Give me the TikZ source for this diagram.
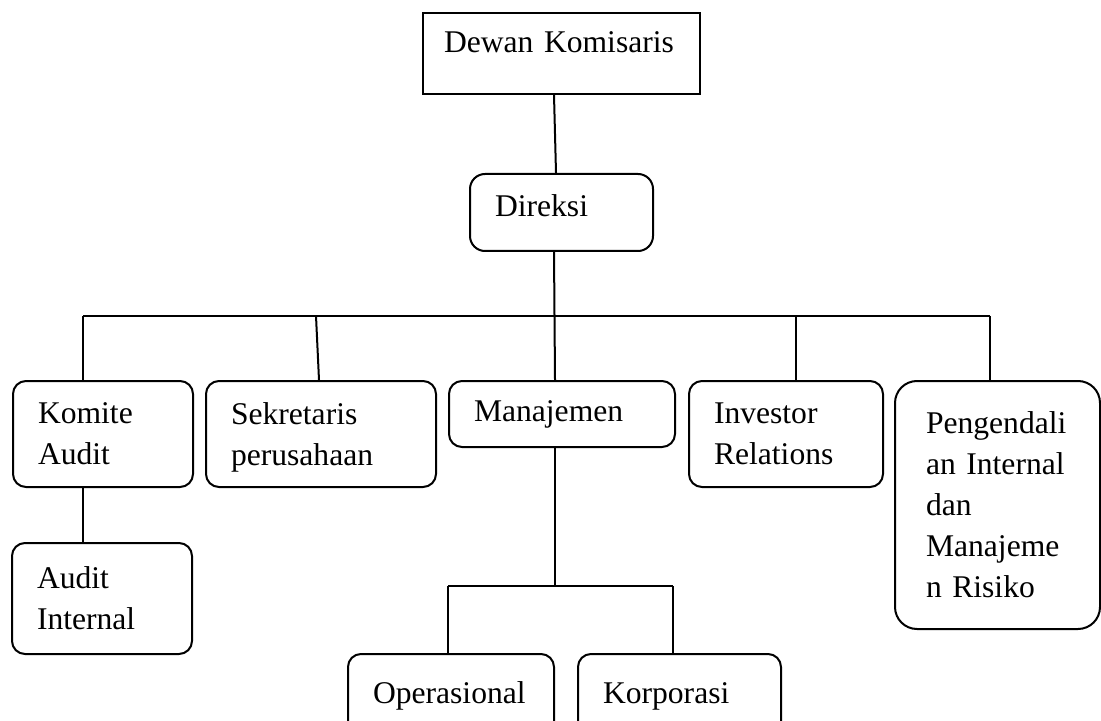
\documentclass[tikz,border=0pt]{standalone}
\usepackage{fontspec}
\setmainfont{Liberation Serif}
\begin{document}
\begin{tikzpicture}[x=0.5pt,y=-0.5pt,line width=1pt,
    every node/.style={font=\fontsize{15.8}{20.5}\selectfont},
    org box/.style={draw,rounded corners=6.5pt,anchor=north west,align=left,inner xsep=12.5pt,inner ysep=0pt},
    top box/.style={org box,sharp corners,inner xsep=10.5pt}]

  \useasboundingbox (0,0) rectangle (1101,721);
  \clip (0,0) rectangle (1101,721);

  \node[top box,text width=117.5pt,minimum height=40.5pt,text depth=11.3pt] (dewan) at (422,12) {Dewan Komisaris};
  \node[org box,rounded corners=7.5pt,text width=66.5pt,minimum height=38.5pt,text depth=7.3pt] (direksi) at (469,173) {Direksi};

  \node[org box,text width=65pt,minimum height=53pt] (komite) at (12,380) {Komite\\Audit};
  \node[org box,text width=90pt,minimum height=53pt,text depth=20.5pt] (sekretaris) at (205,380) {Sekretaris\\perusahaan};
  \node[org box,text width=88pt,minimum height=33pt] (manajemen) at (448,380) {Manajemen};
  \node[org box,text width=72pt,minimum height=53pt] (investor) at (688,380) {Investor\\Relations};
  \node[org box,rounded corners=11pt,inner xsep=15.5pt,text width=71.5pt,minimum height=124pt] (pengendali) at (894,380)
    {Pengendali\\an Internal\\dan\\Manajeme\\n Risiko};

  \node[org box,text width=65pt,minimum height=55.5pt] (audit) at (11,542) {Audit\\Internal};
  \node[org box,text width=78pt,minimum height=42pt] (operasional) at (347,653) {Operasional};
  \node[org box,text width=76.5pt,minimum height=42pt] (korporasi) at (577,653) {Korporasi};

  \coordinate (bus a) at (83,316);
  \coordinate (bus b) at (316,316);
  \coordinate (bus d) at (796,316);
  \coordinate (bus e) at (990,316);
  \coordinate (sub a) at (448,586);
  \coordinate (sub b) at (673,586);

  \draw ([xshift=-3.75pt]dewan.south) -- ([xshift=-2.75pt]direksi.north);
  \draw ([xshift=-3.75pt]direksi.south) -- ([xshift=-3.5pt]manajemen.north);
  \draw (bus a) -- (bus e);
  \draw (bus a) -- (bus a |- komite.north);
  \draw (bus b) -- ([xshift=-1pt]sekretaris.north);
  \draw (bus d) -- (bus d |- investor.north);
  \draw (bus e) -- (bus e |- pengendali.north);
  \draw (bus a |- komite.south) -- (bus a |- audit.north);

  \draw ([xshift=-3.5pt]manajemen.south) -- ([xshift=-3.5pt]manajemen.south |- sub a);
  \draw (sub a) -- (sub b);
  \draw (sub a) -- (sub a |- operasional.north);
  \draw (sub b) -- (sub b |- korporasi.north);
\end{tikzpicture}
\end{document}
